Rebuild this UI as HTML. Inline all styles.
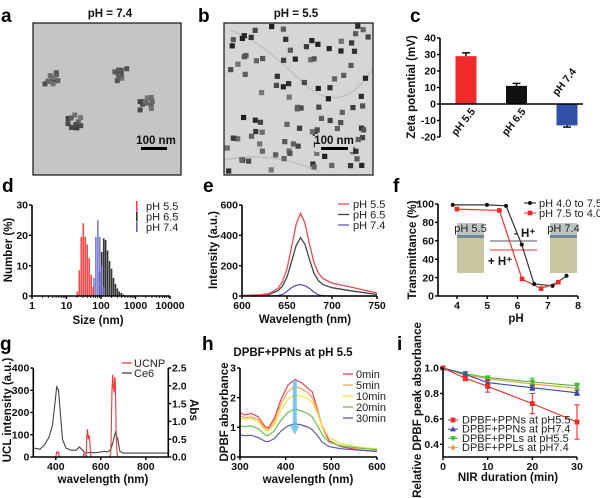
<!DOCTYPE html>
<html><head><meta charset="utf-8"><style>
html,body{margin:0;padding:0;background:#fff;}
svg{display:block;font-family:"Liberation Sans",Arial,sans-serif;}
.tk{font-size:10.5px;font-weight:bold;fill:#111;}
.ttl{font-size:11.5px;font-weight:bold;fill:#111;}
.lg{font-size:11px;fill:#222;}
.pl{font-size:19px;font-weight:bold;fill:#000;}
</style></head><body>
<svg id="fig" width="600" height="498" viewBox="0 0 600 498"></svg>
<script>
// ---- chart data ----
const zetaCats=['pH 5.5','pH 6.5','pH 7.4'];
const zetaVals=[29,11,-13];
const zetaErr=[2,1.5,1];
const zetaTicks=[-20,-10,0,10,20,30,40];
const dlsRedSize=[20.6,23.5,26.8,30.6,34.9,39.8,45.4,51.8,59];
const dlsRedVal=[1.5,8.5,19.5,24,19.5,17,12.5,7,3];
const dlsBlueSize=[62.6,71,81,92,105,120];
const dlsBlueVal=[6,19.5,25,19.5,10,3];
const dlsBlackSize=[92,105,120,136,155,177,202,230,262,299,341,389,443];
const dlsBlackVal=[8,14.5,19,18.5,15,11.5,9,6,4,2.5,1.5,1,0.5];
const dlsYTicks=[0,10,20,30];
const dlsXTicks=[1,10,100,1000,10000];
const flWl=[600,620,630,640,645,650,655,660,665,670,675,680,685,690,700,720,750];
const flRed=[3,8,15,50,95,180,320,470,545,480,340,220,150,115,85,60,20];
const flBlack=[2,5,10,35,65,125,225,330,385,340,240,150,100,75,55,35,10];
const flBlue=[0,0,0,3,10,30,55,70,75,68,50,25,8,2,0,0,0];
const flXTicks=[600,650,700,750];
const flYTicks=[0,200,400,600];
const trBlackPH=[3.86,4.99,5.62,6.14,6.55,7.16,7.62];
const trBlackVal=[99,99,98,56,13,11,22];
const trRedPH=[4.0,5.4,6.15,6.78,7.35];
const trRedVal=[94.5,93,18.5,8,15];
const trXTicks=[4,5,6,7,8];
const trYTicks=[0,20,40,60,80,100];
const ce6Wl=[300,330,350,370,385,395,404,412,420,430,445,470,490,505,515,530,560,580,600,615,630,645,655,665,675,685,700,750,900];
const ce6Abs=[0.25,0.22,0.34,0.56,0.88,1.44,1.97,1.88,1.25,0.5,0.25,0.19,0.19,0.28,0.22,0.12,0.12,0.12,0.14,0.16,0.14,0.22,0.44,0.69,0.5,0.16,0.11,0.11,0.11];
const ucnpWl=[300,400,404,408,412,416,520,525,530,535,538,541,544,547,550,553,556,560,640,645,650,653,656,659,662,665,668,672,676,680,900];
const ucnpVal=[0,0,22,18,22,0,0,15,8,0,90,125,80,95,90,40,5,0,0,30,300,370,310,290,360,330,120,20,0,0,0];
const gXTicks=[400,600,800];
const gYTicks=[0,100,200,300,400];
const gRTicks=[0,0.5,1.0,1.5,2.0,2.5];
const hWl=[300,310,325,340,355,362,375,390,405,420,435,450,458,470,480,495,520,560,600];
const h0=[1.5,1.42,1.47,1.35,1.02,0.98,1.3,1.95,2.42,2.62,2.5,2.3,2.2,1.6,1.0,0.55,0.35,0.24,0.18];
const h5=[1.4,1.32,1.35,1.25,0.95,0.92,1.2,1.8,2.2,2.38,2.3,2.15,2.0,1.55,1.05,0.65,0.45,0.33,0.27];
const h10=[1.3,1.27,1.3,1.18,0.92,0.88,1.1,1.6,1.95,2.1,2.05,1.95,1.85,1.45,1.0,0.65,0.45,0.33,0.27];
const h20=[1.05,1.02,1.05,0.95,0.75,0.72,0.88,1.25,1.5,1.62,1.55,1.45,1.35,1.05,0.75,0.5,0.38,0.3,0.25];
const h30=[0.75,0.72,0.73,0.65,0.53,0.52,0.62,0.88,1.05,1.12,1.08,1.0,0.92,0.72,0.5,0.35,0.28,0.23,0.2];
const hLabels=['0min','5min','10min','20min','30min'];
const hXTicks=[300,400,500,600];
const hYTicks=[0,1,2,3];
const iTime=[0,5,10,20,30];
const iPPN55=[1.0,0.92,0.855,0.72,0.575];
const iPPN55Err=[0.01,0.02,0.045,0.08,0.135];
const iPPN74=[1.0,0.95,0.885,0.845,0.805];
const iPPN74Err=[0.01,0.02,0.02,0.02,0.02];
const iPPL55=[1.0,0.955,0.925,0.89,0.86];
const iPPL55Err=[0.01,0.01,0.01,0.03,0.02];
const iPPL74=[1.0,0.945,0.915,0.875,0.84];
const iPPL74Err=[0.01,0.01,0.01,0.02,0.02];
const iLabels=['DPBF+PPNs at pH5.5','DPBF+PPNs at pH7.4','DPBF+PPLs at pH5.5','DPBF+PPLs at pH7.4'];
const iXTicks=[0,10,20,30];
const iYTicks=[0.4,0.6,0.8,1.0];

// ---- helpers ----
const NS='http://www.w3.org/2000/svg';
const svg=document.getElementById('fig');
function mk(tag,a,p){const e=document.createElementNS(NS,tag);for(const k in a)e.setAttribute(k,a[k]);(p||svg).appendChild(e);return e;}
function tx(x,y,s,cls,p,extra){const t=mk('text',Object.assign({x:x,y:y,class:cls},extra||{}),p);t.textContent=s;return t;}
function lin(d0,d1,r0,r1){return v=>r0+(v-d0)*(r1-r0)/(d1-d0);}
function grp(name){const g=mk('g',{});return g;}
function yAxis(g,x,top,bot,ticks,sc,fmt,name){
  const a=mk('line',{x1:x,y1:top,x2:x,y2:bot,stroke:'#000','stroke-width':1.6},g);
  
  
  ticks.forEach(v=>{const y=sc(v);mk('line',{x1:x-3,y1:y,x2:x,y2:y,stroke:'#000','stroke-width':1.4},g);
    const t=tx(x-4,y+3.7,fmt?fmt(v):String(v),'tk',g,{'text-anchor':'end'});
    
    });
}
function xAxis(g,y,l,r,ticks,sc,fmt,name){
  const a=mk('line',{x1:l,y1:y,x2:r,y2:y,stroke:'#000','stroke-width':1.6},g);
  
  
  ticks.forEach(v=>{const x=sc(v);mk('line',{x1:x,y1:y,x2:x,y2:y+3,stroke:'#000','stroke-width':1.4},g);
    const t=tx(x,y+13,fmt?fmt(v):String(v),'tk',g,{'text-anchor':'middle'});
    
    });
}
function pathOf(xs,ys,sx,sy){return xs.map((v,i)=>(i?'L':'M')+sx(v).toFixed(1)+','+sy(ys[i]).toFixed(1)).join('');}
function rotTitle(g,x,y,s,name,fs){const t=tx(x,y,s,'ttl',g,{'text-anchor':'middle',transform:'rotate(-90 '+x+' '+y+')','font-size':fs||'12'});return t;}
function plabel(x,y,s){const t=tx(x,y,s,'pl');}

// seeded RNG for TEM texture (not chart data)
let seed=7;function rnd(){seed=(seed*16807)%2147483647;return seed/2147483647;}

// ---- panel a ----
plabel(1,22,'a');
const ga=grp('tem-image-ph74');
const ttlA=tx(110,17,'pH = 7.4','ttl',ga,{'text-anchor':'middle','font-size':'11'});

mk('rect',{x:33,y:23,width:148,height:152,fill:'#c5c5c5',stroke:'#111','stroke-width':1.2},ga);
[[52,78],[121,75],[146,103],[75,122]].forEach(c=>{for(let k=0;k<11;k++){const x=c[0]+(rnd()-0.5)*14,y=c[1]+(rnd()-0.5)*14;const v=Math.floor(60+rnd()*60);
  const r=mk('rect',{x:x-2.5,y:y-2.5,width:5,height:5,fill:'rgb('+v+','+v+','+v+')'},ga);
  }});
tx(156,144,'100 nm','ttl',ga,{'text-anchor':'middle','font-size':'10.5'});
const sbA=mk('rect',{x:141,y:147,width:26,height:3,fill:'#000'},ga);


// ---- panel b ----
plabel(198,22,'b');
const gb=grp('tem-image-ph55');
const ttlB=tx(296,17,'pH = 5.5','ttl',gb,{'text-anchor':'middle','font-size':'11'});

mk('rect',{x:224,y:23,width:149,height:152,fill:'#d6d6d6',stroke:'#111','stroke-width':1.2},gb);
mk('path',{d:'M230,30 Q260,40 300,80 T372,70',stroke:'#bcbcbc','stroke-width':1.2,fill:'none'},gb);
mk('path',{d:'M225,160 Q270,150 320,172',stroke:'#bcbcbc','stroke-width':1.2,fill:'none'},gb);
for(let k=0;k<105;k++){const x=227+rnd()*142,y=26+rnd()*146;const v=Math.floor(30+rnd()*90);
  const r=mk('rect',{x:x-2.6,y:y-2.6,width:5.2,height:5.2,fill:'rgb('+v+','+v+','+v+')'},gb);
  }
mk('rect',{x:315,y:134,width:38,height:18,fill:'#d6d6d6'},gb);
tx(334,144,'100 nm','ttl',gb,{'text-anchor':'middle','font-size':'10.5'});
const sbB=mk('rect',{x:321,y:147,width:27,height:3,fill:'#000'},gb);


// ---- panel c ----
plabel(410,22,'c');
const gc=grp('zeta-potential-chart');
const yC=lin(-20,40,137,38);
const cx=i=>466+i*50.5;
const zetaColors=['#ee2a2a','#111111','#3050a8'];
zetaVals.forEach((v,i)=>{
  const y0=yC(0),y1=yC(v);
  const b=mk('rect',{x:cx(i)-10.5,y:Math.min(y0,y1),width:21,height:Math.abs(y1-y0),fill:zetaColors[i]},gc);
  
  
  const ye=yC(v+Math.sign(v)*zetaErr[i]);
  mk('line',{x1:cx(i),y1:y1,x2:cx(i),y2:ye,stroke:'#000','stroke-width':1.4},gc);
  mk('line',{x1:cx(i)-4,y1:ye,x2:cx(i)+4,y2:ye,stroke:'#000','stroke-width':1.4},gc);
  const ly=v>=0?yC(0)+20:yC(0)-20;
  const t=tx(cx(i),ly,zetaCats[i],'tk',gc,{'text-anchor':'middle','font-size':'10.5',transform:'rotate(-52 '+cx(i)+' '+ly+')'});
  
  
});
yAxis(gc,440,38,137,zetaTicks,yC,null,'y-axis');
const xc=mk('line',{x1:440,y1:yC(0),x2:583,y2:yC(0),stroke:'#000','stroke-width':1.6},gc);

rotTitle(gc,415,87,'Zeta potential (mV)','y-axis-title');

// ---- panel d ----
plabel(2,192,'d');
const gd=grp('dls-size-chart');
const yD=lin(0,30,296,205);
const xD=v=>32+Math.log10(v)*34.5;
[[dlsBlackSize,dlsBlackVal,'#333333','black'],[dlsBlueSize,dlsBlueVal,'rgba(100,100,200,0.85)','blue'],[dlsRedSize,dlsRedVal,'#f04848','red']].forEach(s=>{
  s[0].forEach((sz,i)=>{const b=mk('rect',{x:xD(sz)-0.8,y:yD(s[1][i]),width:1.6,height:yD(0)-yD(s[1][i]),fill:s[2]},gd);
    
    });
});
yAxis(gd,32,205,296,dlsYTicks,yD,null,'y-axis');
xAxis(gd,296,32,170,dlsXTicks,xD,null,'x-axis');
for(let d=0;d<4;d++)for(let m=2;m<10;m++){const x=xD(Math.pow(10,d)*m);mk('line',{x1:x,y1:296,x2:x,y2:298,stroke:'#000','stroke-width':0.8},gd);}
const dxt=tx(98,324,'Size (nm)','ttl',gd,{'text-anchor':'middle','font-size':'12'});

rotTitle(gd,12,250,'Number (%)','y-axis-title');
[['pH 5.5','#f04848'],['pH 6.5','#333'],['pH 7.4','#6464c8']].forEach((l,i)=>{
  const y=206+i*10.5;
  const m=mk('rect',{x:136,y:y-5,width:1.6,height:10,fill:l[1]},gd);
  
  const t=tx(146,y+4,l[0],'lg',gd,{'font-size':'12'});
  
  
});

// ---- panel e ----
plabel(203,192,'e');
const ge=grp('fluorescence-chart');
const xE=lin(600,750,242,377), yE=lin(0,600,296,205);
[[flBlue,'#5a5ab8','ph74'],[flBlack,'#444','ph65'],[flRed,'#f04850','ph55']].forEach(s=>{
  const p=mk('path',{d:pathOf(flWl,s[0],xE,yE),fill:'none',stroke:s[1],'stroke-width':1.3},ge);
  
  
});
yAxis(ge,242,205,296,flYTicks,yE,null,'y-axis');
xAxis(ge,296,242,377,flXTicks,xE,null,'x-axis');
const ext=tx(305,323,'Wavelength (nm)','ttl',ge,{'text-anchor':'middle','font-size':'12.5'});

rotTitle(ge,217,250,'Intensity (a.u.)','y-axis-title');
[['pH 5.5','#f04850'],['pH 6.5','#444'],['pH 7.4','#5a5ab8']].forEach((l,i)=>{
  const y=204+i*10.5;
  const m=mk('line',{x1:338,y1:y,x2:349,y2:y,stroke:l[1],'stroke-width':1.3},ge);
  
  const t=tx(353,y+4,l[0],'lg',ge,{'font-size':'12'});
  
  
});

// ---- panel f ----
plabel(393,192,'f');
const gf=grp('transmittance-chart');
const xF=lin(4,8,457,578), yF=lin(0,100,296,204);
[[457,'pH 5.5'],[550,'pH 7.4']].forEach(v=>{
  const g2=mk('g',{},gf);
  
  
  mk('rect',{x:v[0],y:223,width:27,height:50,fill:'#c9c6a2'},g2);
  mk('rect',{x:v[0],y:223,width:27,height:13,fill:'#bcc4c4'},g2);
  mk('rect',{x:v[0],y:235,width:27,height:3,fill:'#6f8a96'},g2);
  tx(v[0]+13.5,232,v[1],'lg',g2,{'text-anchor':'middle','font-size':'9.5'});
});
mk('line',{x1:490,y1:241,x2:537,y2:241,stroke:'#555','stroke-width':1},gf);
mk('line',{x1:490,y1:250,x2:537,y2:250,stroke:'#f03030','stroke-width':1},gf);
tx(514,237,'- H⁺','ttl',gf,{'font-size':'10.5'});
tx(488,265,'+ H⁺','ttl',gf,{'font-size':'10.5',fill:'#f02020'});
const pb=mk('path',{d:pathOf(trBlackPH,trBlackVal,xF,yF),fill:'none',stroke:'#333','stroke-width':1.2},gf);

const pr=mk('path',{d:pathOf(trRedPH,trRedVal,xF,yF),fill:'none',stroke:'#f03030','stroke-width':1.2},gf);

trBlackPH.forEach((p,i)=>{const c=mk('circle',{cx:xF(p),cy:yF(trBlackVal[i]),r:2,fill:'#111'},gf);
  
  });
trRedPH.forEach((p,i)=>{const c=mk('rect',{x:xF(p)-2.3,y:yF(trRedVal[i])-2.3,width:4.6,height:4.6,fill:'#f02828'},gf);
  
  });
yAxis(gf,438,204,296,trYTicks,yF,null,'y-axis');
xAxis(gf,296,438,578,trXTicks,xF,null,'x-axis');
const fxt=tx(516,322,'pH','ttl',gf,{'text-anchor':'middle','font-size':'12.5'});

rotTitle(gf,416,250,'Transmittance (%)','y-axis-title');
[['pH 4.0 to 7.5','#111','c'],['pH 7.5 to 4.0','#f02828','s']].forEach((l,i)=>{
  const y=203+i*10;
  mk('line',{x1:524,y1:y,x2:536,y2:y,stroke:l[1],'stroke-width':1},gf);
  const m=l[2]=='c'?mk('circle',{cx:530,cy:y,r:2,fill:l[1]},gf):mk('rect',{x:527.7,y:y-2.3,width:4.6,height:4.6,fill:l[1]},gf);
  
  const t=tx(539,y+4,l[0],'lg',gf,{'font-size':'10.5'});
  
  
});

// ---- panel g ----
plabel(0,350,'g');
const gg=grp('ucl-abs-chart');
const xG=lin(300,900,33.3,168.3), yG=lin(0,400,457,368), yGr=lin(0,2.5,457,368);
const pc=mk('path',{d:pathOf(ce6Wl,ce6Abs,xG,yGr),fill:'none',stroke:'#444','stroke-width':1.1},gg);

const pu=mk('path',{d:pathOf(ucnpWl,ucnpVal,xG,yG),fill:'none',stroke:'#f03a3a','stroke-width':1.1},gg);

yAxis(gg,33.3,368,457,gYTicks,yG,null,'y-axis-left');
xAxis(gg,457,33.3,168.3,gXTicks,xG,null,'x-axis');
const ra=mk('line',{x1:168.3,y1:368,x2:168.3,y2:457,stroke:'#000','stroke-width':1.6},gg);

gRTicks.forEach(v=>{const y=yGr(v);mk('line',{x1:168.3,y1:y,x2:171.3,y2:y,stroke:'#000','stroke-width':1.4},gg);
  const t=tx(172,y+3.7,v.toFixed(1),'tk',gg);
  });
const gxt=tx(103,483,'wavelength (nm)','ttl',gg,{'text-anchor':'middle','font-size':'12.5'});

rotTitle(gg,11,410,'UCL intensity (a.u.)','y-axis-title');
const abs=tx(190,410,'Abs','ttl',gg,{'text-anchor':'middle','transform':'rotate(90 190 410)','font-size':'12'});

[['UCNP','#f03a3a'],['Ce6','#444']].forEach((l,i)=>{
  const y=363+i*10;
  const m=mk('line',{x1:122,y1:y,x2:132,y2:y,stroke:l[1],'stroke-width':1.3},gg);
  
  const t=tx(134,y+4,l[0],'lg',gg,{'font-size':'11'});
  
  
});

// ---- panel h ----
plabel(202,350,'h');
const gh=grp('dpbf-absorbance-chart');
const xH=lin(300,600,240,377), yH=lin(0,3,457,368);
const hTitle=tx(293,356,'DPBF+PPNs at pH 5.5','ttl',gh,{'text-anchor':'middle','font-size':'10.5'});

const hCols=['#ee4048','#f5a55a','#f2e040','#6cc04a','#5a5ab0'];
[h0,h5,h10,h20,h30].forEach((s,i)=>{
  const p=mk('path',{d:pathOf(hWl,s,xH,yH),fill:'none',stroke:hCols[i],'stroke-width':1.2},gh);
  
  
});
const arX=xH(420);
const arr=mk('path',{d:'M'+(arX-2)+','+yH(2.6)+'L'+(arX+2)+','+yH(2.6)+'L'+(arX+2)+','+yH(1.05)+'L'+(arX+4.5)+','+yH(1.05)+'L'+arX+','+yH(0.75)+'L'+(arX-4.5)+','+yH(1.05)+'L'+(arX-2)+','+yH(1.05)+'Z',fill:'#5fc0ee',opacity:0.85},gh);

yAxis(gh,240,368,457,hYTicks,yH,null,'y-axis');
xAxis(gh,457,240,377,hXTicks,xH,null,'x-axis');
const hxt=tx(308,483,'wavelength (nm)','ttl',gh,{'text-anchor':'middle','font-size':'12.5'});

rotTitle(gh,228,412,'DPBF absorbance','y-axis-title');
hLabels.forEach((l,i)=>{
  const y=374+i*11;
  const m=mk('line',{x1:343,y1:y,x2:353,y2:y,stroke:hCols[i],'stroke-width':1.3},gh);
  
  const t=tx(356,y+4,l,'lg',gh,{'font-size':'11'});
  
  
});

// ---- panel i ----
plabel(397,350,'i');
const gi=grp('relative-absorbance-chart');
const xI=lin(0,30,443,577), yI=lin(0.3,1.0,457,368);
const iCols=['#ee2a2a','#3a4aa8','#44bb33','#f59a40'];
const iShapes=['sq','tu','td','di'];
function marker(x,y,sh,c,p){
  if(sh=='sq')return mk('rect',{x:x-2.4,y:y-2.4,width:4.8,height:4.8,fill:c},p);
  if(sh=='tu')return mk('path',{d:'M'+x+','+(y-3)+'L'+(x+3)+','+(y+2.2)+'L'+(x-3)+','+(y+2.2)+'Z',fill:c},p);
  if(sh=='td')return mk('path',{d:'M'+x+','+(y+3)+'L'+(x+3)+','+(y-2.2)+'L'+(x-3)+','+(y-2.2)+'Z',fill:c},p);
  return mk('path',{d:'M'+x+','+(y-3)+'L'+(x+2.5)+','+y+'L'+x+','+(y+3)+'L'+(x-2.5)+','+y+'Z',fill:c},p);
}
[[iPPL74,iPPL74Err,3],[iPPL55,iPPL55Err,2],[iPPN74,iPPN74Err,1],[iPPN55,iPPN55Err,0]].forEach(s=>{
  const c=iCols[s[2]];
  const p=mk('path',{d:pathOf(iTime,s[0],xI,yI),fill:'none',stroke:c,'stroke-width':1.1},gi);
  
  
  iTime.forEach((t,k)=>{
    const x=xI(t),y1=yI(s[0][k]+s[1][k]),y2=yI(s[0][k]-s[1][k]);
    mk('line',{x1:x,y1:y1,x2:x,y2:y2,stroke:c,'stroke-width':1.1},gi);
    mk('line',{x1:x-2.5,y1:y1,x2:x+2.5,y2:y1,stroke:c,'stroke-width':1.1},gi);
    mk('line',{x1:x-2.5,y1:y2,x2:x+2.5,y2:y2,stroke:c,'stroke-width':1.1},gi);
    const m=marker(x,yI(s[0][k]),iShapes[s[2]],c,gi);
    
    
  });
});
yAxis(gi,443,368,457,iYTicks,yI,v=>v.toFixed(1),'y-axis');
xAxis(gi,457,443,577,iXTicks,xI,null,'x-axis');
const ixt=tx(508,481,'NIR duration (min)','ttl',gi,{'text-anchor':'middle','font-size':'11.5'});

rotTitle(gi,421,410,'Relative DPBF peak absorbance','y-axis-title','12.5');
iLabels.forEach((l,i)=>{
  const y=420+i*9.2;
  mk('line',{x1:448,y1:y,x2:458,y2:y,stroke:iCols[i],'stroke-width':1},gi);
  const m=marker(453,y,iShapes[i],iCols[i],gi);
  
  const t=tx(462,y+3.5,l,'lg',gi,{'font-size':'10.5'});
  
  
});
</script>
</body></html>
